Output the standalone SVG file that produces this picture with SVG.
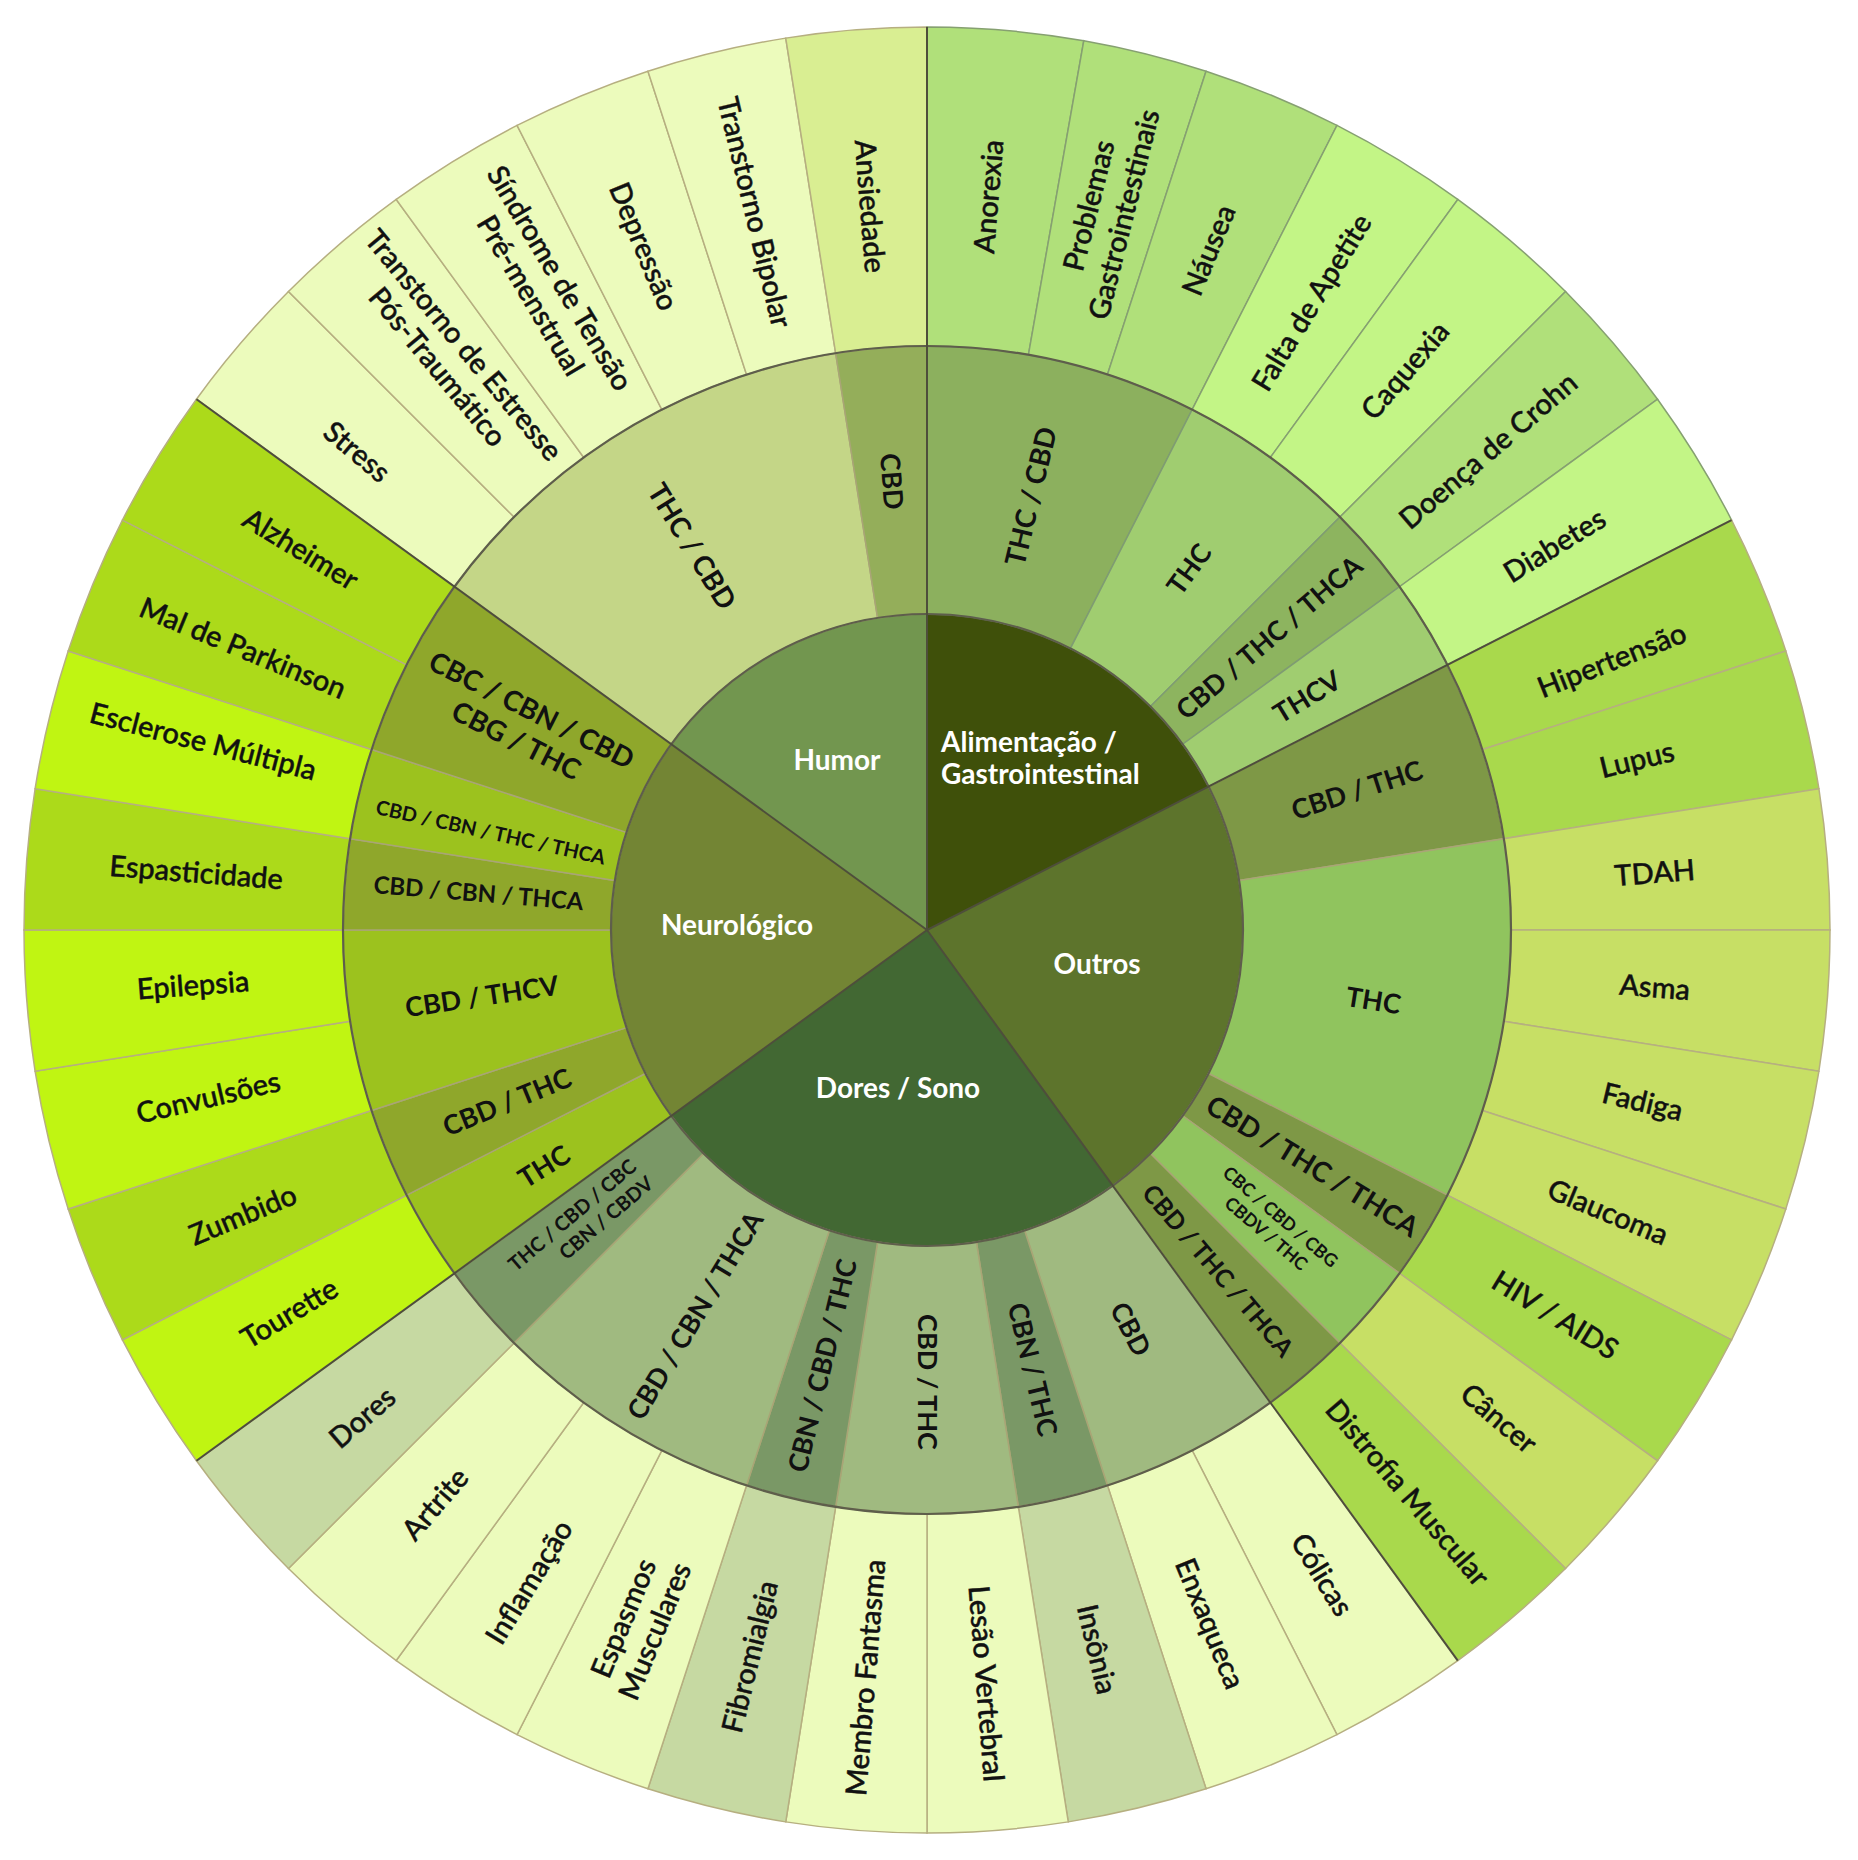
<svg xmlns="http://www.w3.org/2000/svg" width="1858" height="1860" viewBox="0 0 1858 1860">
<style>
text{font-family:Lato,"Liberation Sans",sans-serif;text-anchor:middle;fill:#111}
.ot{font-size:29px;font-weight:500;stroke:#111;stroke-width:0.45px}
.mt{font-size:27px;font-weight:700}
.it{font-size:28px;font-weight:700;fill:#fff;text-anchor:middle}
.o{stroke:#b6af80;stroke-width:1.5}
.oa{stroke:#86a071;stroke-width:1.5}
.m{stroke:#a9a576;stroke-width:1.5}
.ma{stroke:#7f9c72;stroke-width:1.5}
.cat{stroke:#4e4e3b;stroke-width:2;fill:none}
.ring{stroke:#5e5e4b;stroke-width:2.2;fill:none}
</style>
<defs>
<path id="o9" d="M0,-584 L0,-903 A903,903 0 0 1 141.26,-891.88 L91.36,-576.81 A584,584 0 0 0 0,-584 Z"/>
<path id="o10" d="M0,-584 L0,-903 A903,903 0 0 1 156.80,-889.28 L101.41,-575.13 A584,584 0 0 0 0,-584 Z"/>
<path id="o8" d="M0,-584 L0,-903 A903,903 0 0 1 125.67,-894.21 L81.28,-578.32 A584,584 0 0 0 0,-584 Z"/>
<path id="m9" d="M0,-316 L0,-584 A584,584 0 0 1 91.36,-576.81 L49.43,-312.11 A316,316 0 0 0 0,-316 Z"/>
<path id="m18" d="M0,-316 L0,-584 A584,584 0 0 1 180.47,-555.42 L97.65,-300.53 A316,316 0 0 0 0,-316 Z"/>
<path id="m27" d="M0,-316 L0,-584 A584,584 0 0 1 265.13,-520.35 L143.46,-281.56 A316,316 0 0 0 0,-316 Z"/>
<path id="m36" d="M0,-316 L0,-584 A584,584 0 0 1 343.27,-472.47 L185.74,-255.65 A316,316 0 0 0 0,-316 Z"/>
<path id="m45" d="M0,-316 L0,-584 A584,584 0 0 1 412.95,-412.95 L223.45,-223.45 A316,316 0 0 0 0,-316 Z"/>
</defs>
<rect width="1858" height="1860" fill="#fff"/>
<g transform="translate(927,930)">
<!-- inner categories -->
<g id="humor"><path d="M0,0 L0,-316 A316,316 0 0 1 255.65,-185.74 Z" transform="rotate(306)" fill="#72964f"/><text class="it" x="-90" y="-160">Humor</text></g>
<g id="alimentacao"><path d="M0,0 L0,-316 A316,316 0 0 1 281.56,-143.46 Z" fill="#3f500a"/><text class="it" style="text-anchor:start"><tspan x="14" y="-178">Alimentação /</tspan><tspan x="14" y="-146">Gastrointestinal</tspan></text></g>
<g id="outros"><path d="M0,0 L0,-316 A316,316 0 0 1 312.11,-49.43 Z" transform="rotate(63)" fill="#5d742c"/><text class="it" x="170" y="44">Outros</text></g>
<g id="dores-sono"><path d="M0,0 L0,-316 A316,316 0 0 1 316,0 Z" transform="rotate(144)" fill="#426833"/><text class="it" x="-29" y="168">Dores / Sono</text></g>
<g id="neurologico"><path d="M0,0 L0,-316 A316,316 0 0 1 300.53,-97.65 Z" transform="rotate(234)" fill="#738534"/><text class="it" x="-190" y="5">Neurológico</text></g>

<!-- middle ring -->
<g id="m-humor-thccbd"><use href="#m45" class="m" transform="rotate(306)" fill="#c4d687"/><text class="mt" style="font-size:28px" transform="rotate(328.5) translate(0,-450) rotate(90)" dy="0.35em">THC / CBD</text></g>
<g id="m-humor-cbd"><use href="#m9" class="m" transform="rotate(351)" fill="#94ae5a"/><text class="mt" transform="rotate(355.5) translate(0,-450) rotate(90)" dy="0.35em">CBD</text></g>
<g id="m-alim-thccbd"><use href="#m27" class="ma" transform="rotate(0)" fill="#8cb05e"/><text class="mt" style="font-size:28px" transform="rotate(13.5) translate(0,-446) rotate(-90)" dy="0.35em">THC / CBD</text></g>
<g id="m-alim-thc"><use href="#m18" class="ma" transform="rotate(27)" fill="#a0cd70"/><text class="mt" transform="rotate(36) translate(0,-446) rotate(-90)" dy="0.35em">THC</text></g>
<g id="m-alim-cbdthcthca"><use href="#m9" class="ma" transform="rotate(45)" fill="#8db45f"/><text class="mt" transform="rotate(49.5) translate(0,-450) rotate(-90)" dy="0.35em">CBD / THC / THCA</text></g>
<g id="m-alim-thcv"><use href="#m9" class="ma" transform="rotate(54)" fill="#a0cd70"/><text class="mt" transform="rotate(58.5) translate(0,-446) rotate(-90)" dy="0.35em">THCV</text></g>
<g id="m-outros-cbdthc"><use href="#m18" class="m" transform="rotate(63)" fill="#7e9846"/><text class="mt" transform="rotate(72) translate(0,-452) rotate(-90)" dy="0.35em">CBD / THC</text></g>
<g id="m-outros-thc"><use href="#m36" class="m" transform="rotate(81)" fill="#90c45e"/><text class="mt" transform="rotate(99) translate(0,-452) rotate(-90)" dy="0.35em">THC</text></g>
<g id="m-outros-cbdthcthca1"><use href="#m9" class="m" transform="rotate(117)" fill="#7e9846"/><text class="mt" style="font-size:28px" transform="rotate(121.5) translate(0,-452) rotate(-90)" dy="0.35em">CBD / THC / THCA</text></g>
<g id="m-outros-cbc"><use href="#m9" class="m" transform="rotate(126)" fill="#90c45e"/><text class="mt" style="font-size:18px" transform="rotate(130.5) translate(0,-455) rotate(-90)"><tspan x="0" y="-5">CBC / CBD / CBG</tspan><tspan x="0" y="17">CBDV / THC</tspan></text></g>
<g id="m-outros-cbdthcthca2"><use href="#m9" class="m" transform="rotate(135)" fill="#7e9846"/><text class="mt" style="font-size:25px" transform="rotate(139.5) translate(0,-448) rotate(-90)" dy="0.35em">CBD / THC / THCA</text></g>
<g id="m-dores-cbd"><use href="#m18" class="m" transform="rotate(144)" fill="#a0ba80"/><text class="mt" transform="rotate(153) translate(0,-448) rotate(-90)" dy="0.35em">CBD</text></g>
<g id="m-dores-cbnthc"><use href="#m9" class="m" transform="rotate(162)" fill="#7a9866"/><text class="mt" transform="rotate(166.5) translate(0,-452) rotate(-90)" dy="0.35em">CBN / THC</text></g>
<g id="m-dores-cbdthc"><use href="#m18" class="m" transform="rotate(171)" fill="#a0ba80"/><text class="mt" transform="rotate(180) translate(0,-452) rotate(-90)" dy="0.35em">CBD / THC</text></g>
<g id="m-dores-cbncbdthc"><use href="#m9" class="m" transform="rotate(189)" fill="#7a9866"/><text class="mt" transform="rotate(193.5) translate(0,-448) rotate(90)" dy="0.35em">CBN / CBD / THC</text></g>
<g id="m-dores-cbdcbnthca"><use href="#m27" class="m" transform="rotate(198)" fill="#a0ba80"/><text class="mt" transform="rotate(211) translate(0,-450) rotate(90)" dy="0.35em">CBD / CBN / THCA</text></g>
<g id="m-dores-thccbdcbc"><use href="#m9" class="m" transform="rotate(225)" fill="#7a9866"/><text class="mt" style="font-size:20px" transform="rotate(229.7) translate(0,-455) rotate(90)"><tspan x="0" y="-5">THC / CBD / CBC</tspan><tspan x="24" y="19">CBN / CBDV</tspan></text></g>
<g id="m-neuro-thc"><use href="#m9" class="m" transform="rotate(234)" fill="#9cc21e"/><text class="mt" transform="rotate(238.3) translate(0,-450) rotate(90)" dy="0.35em">THC</text></g>
<g id="m-neuro-cbdthc"><use href="#m9" class="m" transform="rotate(243)" fill="#8fa72b"/><text class="mt" transform="rotate(247.7) translate(0,-454) rotate(90)" dy="0.35em">CBD / THC</text></g>
<g id="m-neuro-cbdthcv"><use href="#m18" class="m" transform="rotate(252)" fill="#9cc21e"/><text class="mt" transform="rotate(261.5) translate(0,-450) rotate(90)" dy="0.35em">CBD / THCV</text></g>
<g id="m-neuro-cbdcbnthca"><use href="#m9" class="m" transform="rotate(270)" fill="#8fa72b"/><text class="mt" style="font-size:24px" transform="rotate(274.7) translate(0,-450) rotate(90)" dy="0.35em">CBD / CBN / THCA</text></g>
<g id="m-neuro-cbdcbnthcthca"><use href="#m9" class="m" transform="rotate(279)" fill="#9cc21e"/><text class="mt" style="font-size:20px" transform="rotate(282.6) translate(0,-447) rotate(90)" dy="0.35em">CBD / CBN / THC / THCA</text></g>
<g id="m-neuro-cbccbncbd"><use href="#m18" class="m" transform="rotate(288)" fill="#8fa72b"/><text class="mt" style="font-size:28px" transform="rotate(296.8) translate(0,-452) rotate(90)"><tspan x="0" y="-8">CBC / CBN / CBD</tspan><tspan x="0" y="26">CBG / THC</tspan></text></g>

<!-- outer ring -->
<g id="stress"><use href="#o9" class="o" transform="rotate(306)" fill="#ecfbbc"/><text class="ot" transform="rotate(310) translate(0,-744) rotate(90)" dy="0.35em">Stress</text></g>
<g id="tept"><use href="#o9" class="o" transform="rotate(315)" fill="#ecfbbc"/><text class="ot" transform="rotate(320.3) translate(0,-746) rotate(90)"><tspan x="0" y="-7">Transtorno de Estresse</tspan><tspan x="0" y="27">Pós-Traumático</tspan></text></g>
<g id="spm"><use href="#o9" class="o" transform="rotate(324)" fill="#ecfbbc"/><text class="ot" transform="rotate(329.3) translate(0,-748) rotate(90)"><tspan x="0" y="-7">Síndrome de Tensão</tspan><tspan x="0" y="27">Pré-menstrual</tspan></text></g>
<g id="depressao"><use href="#o9" class="o" transform="rotate(333)" fill="#ecfbbc"/><text class="ot" transform="rotate(337.5) translate(0,-740) rotate(90)" dy="0.35em">Depressão</text></g>
<g id="bipolar"><use href="#o9" class="o" transform="rotate(342)" fill="#ecfbbc"/><text class="ot" transform="rotate(346.5) translate(0,-738) rotate(90)" dy="0.35em">Transtorno Bipolar</text></g>
<g id="ansiedade"><use href="#o9" class="o" transform="rotate(351)" fill="#d9ee92"/><text class="ot" transform="rotate(355.5) translate(0,-726) rotate(90)" dy="0.35em">Ansiedade</text></g>
<g id="anorexia"><use href="#o10" class="oa" transform="rotate(0)" fill="#b0e07a"/><text class="ot" transform="rotate(4.8) translate(0,-736) rotate(-90)" dy="0.35em">Anorexia</text></g>
<g id="problemas-gi"><use href="#o8" class="oa" transform="rotate(10)" fill="#b0e07a"/><text class="ot" transform="rotate(14) translate(0,-742) rotate(-90)"><tspan x="0" y="-8">Problemas</tspan><tspan x="0" y="28">Gastrointestinais</tspan></text></g>
<g id="nausea"><use href="#o9" class="oa" transform="rotate(18)" fill="#b0e07a"/><text class="ot" transform="rotate(22.5) translate(0,-736) rotate(-90)" dy="0.35em">Náusea</text></g>
<g id="falta-apetite"><use href="#o9" class="oa" transform="rotate(27)" fill="#c3f586"/><text class="ot" transform="rotate(31.5) translate(0,-736) rotate(-90)" dy="0.35em">Falta de Apetite</text></g>
<g id="caquexia"><use href="#o9" class="oa" transform="rotate(36)" fill="#c3f586"/><text class="ot" transform="rotate(40.5) translate(0,-736) rotate(-90)" dy="0.35em">Caquexia</text></g>
<g id="crohn"><use href="#o9" class="oa" transform="rotate(45)" fill="#b0e07a"/><text class="ot" transform="rotate(49.5) translate(0,-738) rotate(-90)" dy="0.35em">Doença de Crohn</text></g>
<g id="diabetes"><use href="#o9" class="oa" transform="rotate(54)" fill="#c3f586"/><text class="ot" transform="rotate(58.5) translate(0,-736) rotate(-90)" dy="0.35em">Diabetes</text></g>
<g id="hipertensao"><use href="#o9" class="o" transform="rotate(63)" fill="#a9d94c"/><text class="ot" transform="rotate(68.5) translate(0,-736) rotate(-90)" dy="0.35em">Hipertensão</text></g>
<g id="lupus"><use href="#o9" class="o" transform="rotate(72)" fill="#a9d94c"/><text class="ot" transform="rotate(76.5) translate(0,-730) rotate(-90)" dy="0.35em">Lupus</text></g>
<g id="tdah"><use href="#o9" class="o" transform="rotate(81)" fill="#c7df65"/><text class="ot" transform="rotate(85.5) translate(0,-730) rotate(-90)" dy="0.35em">TDAH</text></g>
<g id="asma"><use href="#o9" class="o" transform="rotate(90)" fill="#c7df65"/><text class="ot" transform="rotate(94.5) translate(0,-730) rotate(-90)" dy="0.35em">Asma</text></g>
<g id="fadiga"><use href="#o9" class="o" transform="rotate(99)" fill="#c7df65"/><text class="ot" transform="rotate(103.5) translate(0,-736) rotate(-90)" dy="0.35em">Fadiga</text></g>
<g id="glaucoma"><use href="#o9" class="o" transform="rotate(108)" fill="#c7df65"/><text class="ot" transform="rotate(112.5) translate(0,-737) rotate(-90)" dy="0.35em">Glaucoma</text></g>
<g id="hiv-aids"><use href="#o9" class="o" transform="rotate(117)" fill="#a9d94c"/><text class="ot" transform="rotate(121.5) translate(0,-737) rotate(-90)" dy="0.35em">HIV / AIDS</text></g>
<g id="cancer"><use href="#o9" class="o" transform="rotate(126)" fill="#c7df65"/><text class="ot" transform="rotate(130.5) translate(0,-752) rotate(-90)" dy="0.35em">Câncer</text></g>
<g id="distrofia"><use href="#o9" class="o" transform="rotate(135)" fill="#a9d94c"/><text class="ot" transform="rotate(139.5) translate(0,-740) rotate(-90)" dy="0.35em">Distrofia Muscular</text></g>
<g id="colicas"><use href="#o9" class="o" transform="rotate(144)" fill="#ecfbbc"/><text class="ot" transform="rotate(148.5) translate(0,-756) rotate(-90)" dy="0.35em">Cólicas</text></g>
<g id="enxaqueca"><use href="#o9" class="o" transform="rotate(153)" fill="#ecfbbc"/><text class="ot" transform="rotate(157.8) translate(0,-749) rotate(-90)" dy="0.35em">Enxaqueca</text></g>
<g id="insonia"><use href="#o9" class="o" transform="rotate(162)" fill="#c6d9a2"/><text class="ot" transform="rotate(166.7) translate(0,-739) rotate(-90)" dy="0.35em">Insônia</text></g>
<g id="lesao-vertebral"><use href="#o9" class="o" transform="rotate(171)" fill="#ecfbbc"/><text class="ot" transform="rotate(175.5) translate(0,-756) rotate(-90)" dy="0.35em">Lesão Vertebral</text></g>
<g id="membro-fantasma"><use href="#o9" class="o" transform="rotate(180)" fill="#ecfbbc"/><text class="ot" transform="rotate(184.7) translate(0,-750) rotate(90)" dy="0.35em">Membro Fantasma</text></g>
<g id="fibromialgia"><use href="#o9" class="o" transform="rotate(189)" fill="#c6d9a2"/><text class="ot" transform="rotate(193.7) translate(0,-748) rotate(90)" dy="0.35em">Fibromialgia</text></g>
<g id="espasmos"><use href="#o9" class="o" transform="rotate(198)" fill="#ecfbbc"/><text class="ot" transform="rotate(202.5) translate(0,-752) rotate(90)"><tspan x="0" y="-7">Espasmos</tspan><tspan x="0" y="27">Musculares</tspan></text></g>
<g id="inflamacao"><use href="#o9" class="o" transform="rotate(207)" fill="#ecfbbc"/><text class="ot" transform="rotate(211.4) translate(0,-764) rotate(90)" dy="0.35em">Inflamação</text></g>
<g id="artrite"><use href="#o9" class="o" transform="rotate(216)" fill="#ecfbbc"/><text class="ot" transform="rotate(220.6) translate(0,-756) rotate(90)" dy="0.35em">Artrite</text></g>
<g id="dores"><use href="#o9" class="o" transform="rotate(225)" fill="#c6d9a2"/><text class="ot" transform="rotate(229.2) translate(0,-746) rotate(90)" dy="0.35em">Dores</text></g>
<g id="tourette"><use href="#o9" class="o" transform="rotate(234)" fill="#c0f512"/><text class="ot" transform="rotate(239) translate(0,-744) rotate(90)" dy="0.35em">Tourette</text></g>
<g id="zumbido"><use href="#o9" class="o" transform="rotate(243)" fill="#acda1a"/><text class="ot" transform="rotate(247.4) translate(0,-741) rotate(90)" dy="0.35em">Zumbido</text></g>
<g id="convulsoes"><use href="#o9" class="o" transform="rotate(252)" fill="#c0f512"/><text class="ot" transform="rotate(256.9) translate(0,-738) rotate(90)" dy="0.35em">Convulsões</text></g>
<g id="epilepsia"><use href="#o9" class="o" transform="rotate(261)" fill="#c0f512"/><text class="ot" transform="rotate(265.7) translate(0,-736) rotate(90)" dy="0.35em">Epilepsia</text></g>
<g id="espasticidade"><use href="#o9" class="o" transform="rotate(270)" fill="#acda1a"/><text class="ot" transform="rotate(274.5) translate(0,-733) rotate(90)" dy="0.35em">Espasticidade</text></g>
<g id="esclerose"><use href="#o9" class="o" transform="rotate(279)" fill="#c0f512"/><text class="ot" transform="rotate(284.6) translate(0,-748) rotate(90)" dy="0.35em">Esclerose Múltipla</text></g>
<g id="parkinson"><use href="#o9" class="o" transform="rotate(288)" fill="#acda1a"/><text class="ot" transform="rotate(292.4) translate(0,-740) rotate(90)" dy="0.35em">Mal de Parkinson</text></g>
<g id="alzheimer"><use href="#o9" class="o" transform="rotate(297)" fill="#acda1a"/><text class="ot" transform="rotate(301.3) translate(0,-733) rotate(90)" dy="0.35em">Alzheimer</text></g>

<!-- boundaries -->
<g id="boundaries">
<circle class="ring" r="584"/>
<circle class="ring" r="316"/>
<line class="cat" x1="0" y1="0" x2="0" y2="-903"/>
<line class="cat" x1="0" y1="0" x2="0" y2="-903" transform="rotate(63)"/>
<line class="cat" x1="0" y1="0" x2="0" y2="-903" transform="rotate(144)"/>
<line class="cat" x1="0" y1="0" x2="0" y2="-903" transform="rotate(234)"/>
<line class="cat" x1="0" y1="0" x2="0" y2="-903" transform="rotate(306)"/>
</g>
</g>
</svg>
